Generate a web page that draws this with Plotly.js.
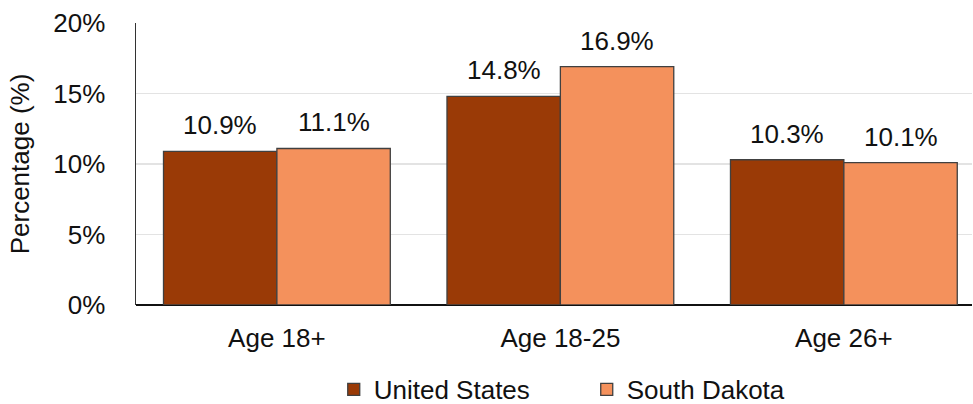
<!DOCTYPE html>
<html><head><meta charset="utf-8">
<script src="https://cdn.plot.ly/plotly-3.0.1.min.js"></script>
<style>html,body{margin:0;padding:0;background:#fff}#chart{width:973px;height:404px}</style>
</head><body><div id="chart"></div>
<script>
const categories = ["Age 18+", "Age 18-25", "Age 26+"];
const seriesNames = ["United States", "South Dakota"];
const usValues = [10.9, 14.8, 10.3];
const sdValues = [11.1, 16.9, 10.1];
const yTickVals = [0, 5, 10, 15, 20];
const yTickText = ["0%", "5%", "10%", "15%", "20%"];

const colors = ["#9A3A06", "#F4915C"];
const seriesValues = [usValues, sdValues];
const font = "Liberation Sans, Arial, sans-serif";
const fs = 26;

const traces = seriesValues.map((vals, i) => ({
  type: "bar",
  name: seriesNames[i],
  x: categories,
  y: vals,
  marker: {color: colors[i], line: {color: "#404040", width: 1.3}},
  hoverinfo: "none"
}));

const plotW = 973 - 136 - 1;
const xRange = [-0.497, 2.452];
const catPx = plotW / (xRange[1] - xRange[0]);
const annotations = [];
seriesValues.forEach((vals, i) => {
  vals.forEach((v, j) => {
    annotations.push({
      x: categories[j], y: v, xref: "x", yref: "y",
      text: v.toFixed(1) + "%", showarrow: false,
      yanchor: "bottom", yshift: 9,
      xshift: (i === 0 ? -1 : 1) * catPx * 0.2,
      font: {family: font, size: fs, color: "#111"}
    });
  });
});

const layout = {
  width: 973, height: 404,
  margin: {l: 136, r: 1, t: 23, b: 98.5, autoexpand: false},
  paper_bgcolor: "#fff", plot_bgcolor: "#fff",
  font: {family: font, size: fs, color: "#111"},
  barmode: "group", bargap: 0.2, bargroupgap: 0,
  showlegend: true,
  legend: {orientation: "h", xref: "container", yref: "container",
           x: 0.343, xanchor: "left", y: 0.036, yanchor: "middle",
           entrywidth: 208, entrywidthmode: "pixels",
           font: {family: font, size: fs, color: "#111"}, itemwidth: 30},
  xaxis: {
    type: "category", range: xRange,
    showline: false, showgrid: false, zeroline: false, ticks: "",
    ticklabelstandoff: 15, fixedrange: true
  },
  yaxis: {
    range: [0, 20], tickvals: yTickVals, ticktext: yTickText,
    showgrid: true, gridcolor: "#e3e3e3", gridwidth: 1.3,
    zeroline: true, zerolinecolor: "#111", zerolinewidth: 1.5,
    showline: true, linecolor: "#333", linewidth: 1.5,
    ticks: "", ticklabelstandoff: 24,
    title: {text: "Percentage (%)", standoff: 16, font: {family: font, size: fs, color: "#111"}},
    fixedrange: true
  },
  annotations: annotations
};

Plotly.newPlot("chart", traces, layout, {displayModeBar: false, staticPlot: true});
</script></body></html>
